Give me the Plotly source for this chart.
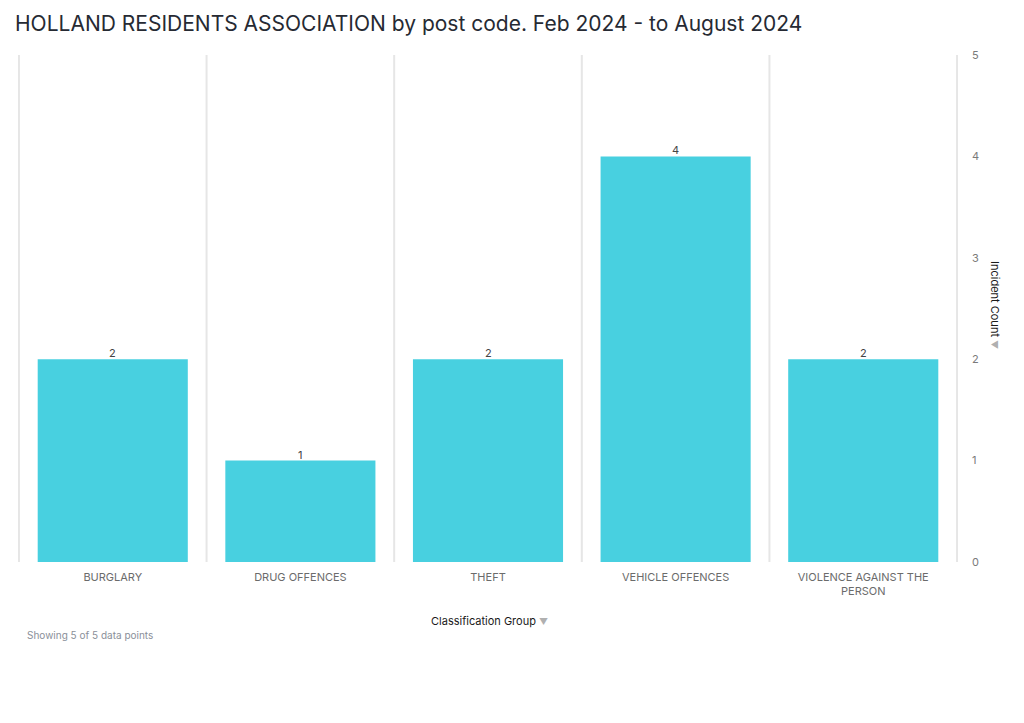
import plotly.graph_objects as go

categories = ["BURGLARY", "DRUG OFFENCES", "THEFT", "VEHICLE OFFENCES", "VIOLENCE AGAINST THE<br>PERSON"]
incident_counts = [2, 1, 2, 4, 2]
y_ticks = [0, 1, 2, 3, 4, 5]

FONT = "Inter, Roboto, sans-serif"
# page body adds an 8px offset; positions below compensate for it
OFF = 8

fig = go.Figure()
fig.add_trace(go.Bar(
    x=categories,
    y=incident_counts,
    marker=dict(color="#48D0E0", line=dict(width=0)),
    width=0.8,
    hoverinfo="skip",
))

label_annotations = [
    dict(x=c, y=v, xref="x", yref="y", text=str(v), showarrow=False,
         xanchor="center", yanchor="bottom", yshift=-3,
         font=dict(family=FONT, size=11, color="#444444"))
    for c, v in zip(categories, incident_counts)
]

# separators at the category boundaries
separators = [
    dict(type="line", xref="x", yref="paper", x0=i - 0.5, x1=i - 0.5, y0=0, y1=1,
         line=dict(color="#e6e6e6", width=2), layer="below")
    for i in range(len(categories) + 1)
]

plot_l, plot_r, plot_t, plot_b = 18, 958, 55, 562
pw, ph = plot_r - plot_l, plot_b - plot_t

fig.update_layout(
    width=1024, height=723,
    margin=dict(l=plot_l - OFF, r=1024 - plot_r + OFF, t=plot_t - OFF, b=723 - plot_b + OFF),
    paper_bgcolor="white", plot_bgcolor="white",
    showlegend=False,
    title=dict(
        text="HOLLAND RESIDENTS ASSOCIATION by post code. Feb 2024 - to August 2024",
        x=(15 - OFF) / 1024, xanchor="left", xref="container",
        y=1 - (24 - OFF) / 723, yanchor="middle", yref="container",
        font=dict(family=FONT, size=21, color="#262a33"),
    ),
    xaxis=dict(
        type="category",
        showgrid=False,
        showline=False, zeroline=False,
        ticks="", ticklen=0,
        tickfont=dict(family=FONT, size=11, color="#6b6b6b"),
        ticklabelstandoff=7,
        range=[-0.505, 4.505],
    ),
    yaxis=dict(
        side="right",
        range=[0, 5],
        tickvals=y_ticks,
        showgrid=False, zeroline=False, showline=False,
        tickfont=dict(family=FONT, size=11, color="#7a7a7a"),
        ticklabelstandoff=13,
    ),
    shapes=separators,
    annotations=label_annotations + [
        dict(text="Classification Group <span style='color:#b0b0b0;font-size:9px'>▼</span>",
             xref="paper", yref="paper", x=(489 - plot_l) / pw, y=-(621 - plot_b) / ph,
             xanchor="center", yanchor="middle", showarrow=False,
             font=dict(family=FONT, size=11, color="#1a1a1a")),
        dict(text="Showing 5 of 5 data points",
             xref="paper", yref="paper", x=(25 - plot_l) / pw, y=-(635 - plot_b) / ph,
             xanchor="left", yanchor="middle", showarrow=False,
             font=dict(family=FONT, size=10, color="#8a8f99")),
        dict(text="Incident Count <span style='color:#b0b0b0;font-size:9px'>▼</span>",
             xref="paper", yref="paper", x=(995 - plot_l) / pw, y=(plot_b - 305) / ph,
             xanchor="center", yanchor="middle", showarrow=False, textangle=90,
             font=dict(family=FONT, size=11, color="#1a1a1a")),
    ],
)

fig.write_html("out.html")
